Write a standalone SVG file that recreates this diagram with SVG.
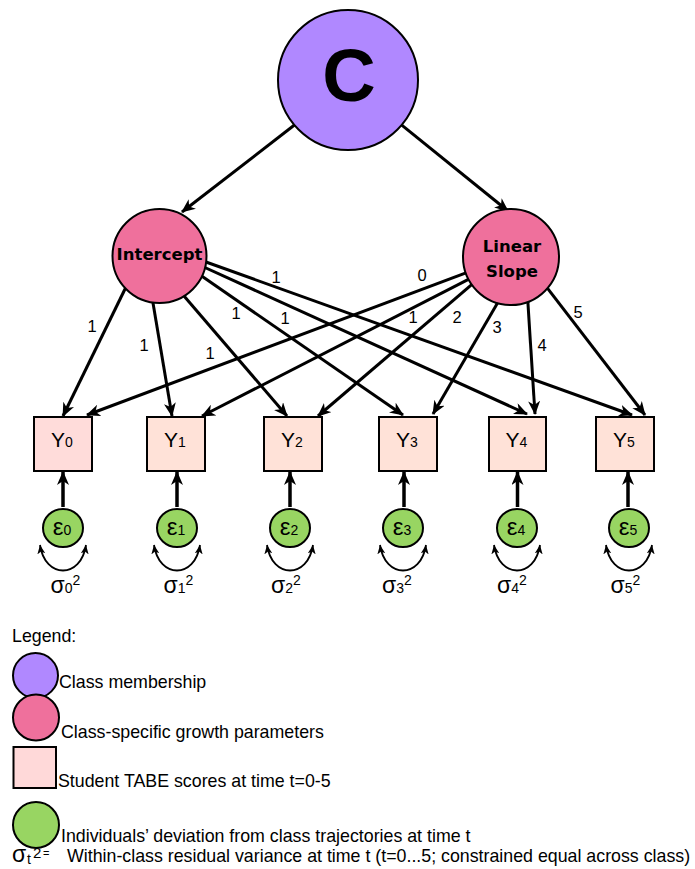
<svg xmlns="http://www.w3.org/2000/svg" width="695" height="869" viewBox="0 0 695 869">
<style>
.edge{fill:none;stroke:#000;stroke-width:3;marker-end:url(#ah)}
.up{fill:none;stroke:#000;stroke-width:3.5;marker-end:url(#ah)}
.var{fill:none;stroke:#000;stroke-width:1.8;marker-start:url(#sa);marker-end:url(#sa)}
.node{stroke:#000;stroke-width:2}
.purple{fill:#B088FF}
.pink{fill:#EF709C}
.box{fill:#FFE2D8}
.box0{fill:#FFDCDA}
.green{fill:#98D562}
.t{font-family:"Liberation Sans",Arial,sans-serif;fill:#000}
.b{font-family:"DejaVu Sans",Verdana,sans-serif;font-weight:bold;font-size:16.5px;text-anchor:middle}
.lbl{font-size:16.5px;text-anchor:middle}
.yl{font-size:21px;text-anchor:middle}
.el{font-size:24px;text-anchor:middle}
.sg{font-size:23px;text-anchor:middle}
.sub{font-size:14px}
.leg{font-size:17.8px}
</style>
<defs>
<marker id="ah" markerUnits="userSpaceOnUse" markerWidth="15" markerHeight="12" refX="13" refY="6" orient="auto">
<path d="M0,0 L14,6 L0,12 L4,6 z" fill="#000"/>
</marker>
<marker id="sa" markerUnits="userSpaceOnUse" markerWidth="10" markerHeight="9" refX="9" refY="4" orient="auto-start-reverse">
<path d="M0,0 L9,4 L0,8 L2.5,4 z" fill="#000"/>
</marker>
</defs>

<g id="connectors">
<line class="edge" x1="296.7" y1="123.3" x2="182" y2="212"/>
<line class="edge" x1="399.3" y1="123.2" x2="508" y2="211"/>
<line class="edge" x1="126" y1="287" x2="63" y2="416"/>
<line class="edge" x1="152" y1="297" x2="172" y2="416"/>
<line class="edge" x1="181" y1="292.4" x2="287" y2="416"/>
<line class="edge" x1="198" y1="273.6" x2="403" y2="415"/>
<line class="edge" x1="200.5" y1="265.5" x2="527" y2="414"/>
<line class="edge" x1="200.4" y1="260" x2="632" y2="415"/>
<line class="edge" x1="468.6" y1="271.9" x2="87" y2="415"/>
<line class="edge" x1="472.3" y1="277.3" x2="202" y2="416"/>
<line class="edge" x1="474.6" y1="282.1" x2="318" y2="416"/>
<line class="edge" x1="500" y1="298.8" x2="433" y2="414"/>
<line class="edge" x1="527.6" y1="298" x2="535" y2="414"/>
<line class="edge" x1="544.3" y1="284.2" x2="645" y2="415"/>
<line class="up" x1="63" y1="507" x2="63" y2="472"/>
<line class="up" x1="177" y1="507" x2="177" y2="472"/>
<line class="up" x1="290" y1="507" x2="290" y2="472"/>
<line class="up" x1="404" y1="507" x2="404" y2="472"/>
<line class="up" x1="517.5" y1="507" x2="517.5" y2="472"/>
<line class="up" x1="628" y1="507" x2="628" y2="472"/>
<path class="var" d="M40,545 C45,579 81,579 86,545"/>
<path class="var" d="M154,545 C159,579 195,579 200,545"/>
<path class="var" d="M267,545 C272,579 308,579 313,545"/>
<path class="var" d="M380,545 C385,579 421,579 426,545"/>
<path class="var" d="M494,545 C499,579 535,579 540,545"/>
<path class="var" d="M606,545 C611,579 647,579 652,545"/>
<g class="t lbl">
<text x="92" y="332">1</text>
<text x="144" y="351">1</text>
<text x="210" y="359">1</text>
<text x="236" y="319">1</text>
<text x="285" y="324">1</text>
<text x="276" y="283">1</text>
<text x="422" y="281">0</text>
<text x="413" y="323">1</text>
<text x="457" y="323">2</text>
<text x="497" y="333">3</text>
<text x="542" y="351">4</text>
<text x="578" y="318">5</text>
</g>
</g>

<g id="C">
<circle class="node purple" cx="348" cy="80" r="70"/>
<text class="t" x="349" y="101" font-size="74" font-weight="bold" text-anchor="middle">C</text>
</g>
<g id="intercept">
<circle class="node pink" cx="159.5" cy="256" r="47"/>
<text class="b" x="159.5" y="260">Intercept</text>
</g>
<g id="slope">
<circle class="node pink" cx="511" cy="257" r="48"/>
<text class="b" x="512" y="251.5">Linear</text>
<text class="b" x="512" y="276.5">Slope</text>
</g>

<g id="Y0"><rect class="node box0" x="34" y="417" width="58" height="54"/><text class="t yl" x="62" y="447">Y<tspan class="sub">0</tspan></text></g>
<g id="Y1"><rect class="node box" x="147" y="417" width="58" height="54"/><text class="t yl" x="175" y="447">Y<tspan class="sub">1</tspan></text></g>
<g id="Y2"><rect class="node box" x="264" y="417" width="58" height="54"/><text class="t yl" x="292" y="447">Y<tspan class="sub">2</tspan></text></g>
<g id="Y3"><rect class="node box" x="379" y="417" width="58" height="54"/><text class="t yl" x="407" y="447">Y<tspan class="sub">3</tspan></text></g>
<g id="Y4"><rect class="node box" x="489" y="417" width="57" height="54"/><text class="t yl" x="516.5" y="447">Y<tspan class="sub">4</tspan></text></g>
<g id="Y5"><rect class="node box" x="596" y="417" width="58" height="54"/><text class="t yl" x="624" y="447">Y<tspan class="sub">5</tspan></text></g>

<g id="e0"><ellipse class="node green" cx="63" cy="528" rx="20" ry="19"/><text class="t el" x="62" y="535">ε<tspan class="sub">0</tspan></text></g>
<g id="e1"><ellipse class="node green" cx="177" cy="528" rx="20" ry="19"/><text class="t el" x="176" y="535">ε<tspan class="sub">1</tspan></text></g>
<g id="e2"><ellipse class="node green" cx="290" cy="528" rx="20" ry="19"/><text class="t el" x="289" y="535">ε<tspan class="sub">2</tspan></text></g>
<g id="e3"><ellipse class="node green" cx="403" cy="528" rx="20" ry="19"/><text class="t el" x="402" y="535">ε<tspan class="sub">3</tspan></text></g>
<g id="e4"><ellipse class="node green" cx="517" cy="528" rx="20" ry="19"/><text class="t el" x="516" y="535">ε<tspan class="sub">4</tspan></text></g>
<g id="e5"><ellipse class="node green" cx="629" cy="528" rx="20" ry="19"/><text class="t el" x="628" y="535">ε<tspan class="sub">5</tspan></text></g>

<g id="variances" class="t">
<text class="sg" x="65.5" y="593">σ<tspan class="sub">0</tspan><tspan class="sub" dy="-8">2</tspan></text>
<text class="sg" x="178.5" y="593">σ<tspan class="sub">1</tspan><tspan class="sub" dy="-8">2</tspan></text>
<text class="sg" x="286" y="593">σ<tspan class="sub">2</tspan><tspan class="sub" dy="-8">2</tspan></text>
<text class="sg" x="397" y="593">σ<tspan class="sub">3</tspan><tspan class="sub" dy="-8">2</tspan></text>
<text class="sg" x="512" y="593">σ<tspan class="sub">4</tspan><tspan class="sub" dy="-8">2</tspan></text>
<text class="sg" x="625.5" y="593">σ<tspan class="sub">5</tspan><tspan class="sub" dy="-8">2</tspan></text>
</g>

<g id="legend" class="t">
<text class="leg" x="12" y="642">Legend:</text>
<circle class="node purple" cx="35.5" cy="675.5" r="22.5"/>
<text class="leg" x="59" y="688">Class membership</text>
<circle class="node pink" cx="36" cy="717.5" r="23"/>
<text class="leg" x="61" y="738">Class-specific growth parameters</text>
<rect class="node" fill="#FFD9D9" x="13.5" y="747" width="42.5" height="41"/>
<text class="leg" x="58" y="787">Student TABE scores at time t=0-5</text>
<circle class="node green" cx="36" cy="825" r="23"/>
<text class="leg" x="61" y="842">Individuals’ deviation from class trajectories at time t</text>
<text x="12" y="862" font-size="23">σ</text>
<text x="27" y="864" font-size="14">t</text>
<text x="33" y="858" font-size="15">2</text>
<text x="43" y="857" font-size="11">=</text>
<text class="leg" x="67" y="862">Within-class residual variance at time t (t=0...5; constrained equal across class)</text>
</g>
</svg>
